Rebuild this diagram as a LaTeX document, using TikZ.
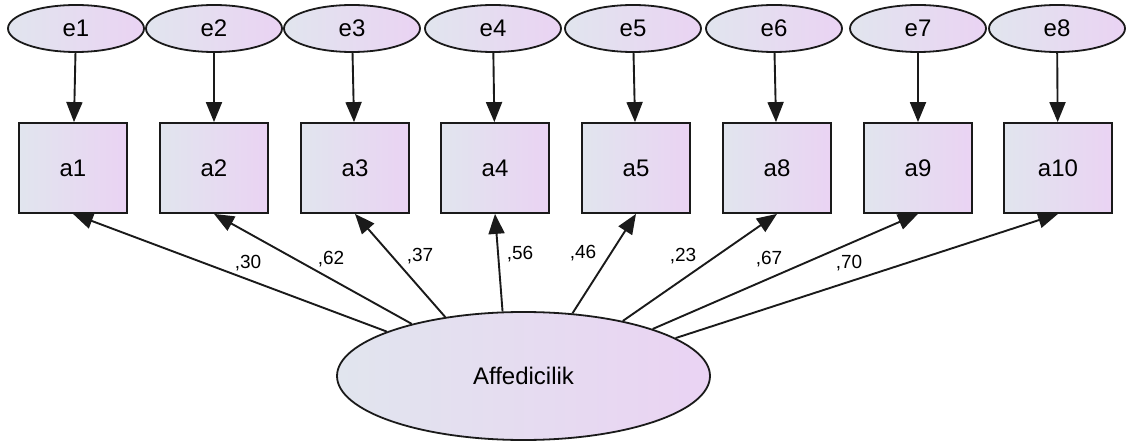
\documentclass[tikz,border=0pt]{standalone}
\usepackage{fontspec}
\setmainfont{Liberation Sans}
\usepackage{tikz}
\usetikzlibrary{positioning,arrows.meta,shapes.geometric}
\usepackage{xcolor}
\definecolor{SemBlue}{HTML}{E1E5EE}
\definecolor{SemLilac}{HTML}{EAD3F3}
\definecolor{SemInk}{HTML}{1A1A1A}

\begin{document}
\begin{tikzpicture}[x=1pt, y=-1pt,
        err/.style={ellipse, draw=SemInk, line width=1.8pt, left color=SemBlue, right color=SemLilac,
          minimum width=136pt, minimum height=47pt, inner sep=0pt, font=\fontsize{24}{28}\selectfont},
        item/.style={rectangle, draw=SemInk, line width=1.8pt, left color=SemBlue, right color=SemLilac,
          minimum width=108pt, minimum height=90pt, inner sep=0pt, font=\fontsize{24}{28}\selectfont},
        latent/.style={ellipse, draw=SemInk, line width=1.8pt, left color=SemBlue, right color=SemLilac,
          minimum width=373pt, minimum height=128pt, inner sep=0pt, font=\fontsize{24}{28}\selectfont},
        path/.style={draw=SemInk, line width=1.9pt, -{Triangle[length=20pt,width=16pt]}},
        lab/.style={font=\fontsize{19}{22}\selectfont, inner sep=0pt},
      ]
      \useasboundingbox (0,0) rectangle (1131,443);
      % observed items
      \node[item] (a1) at (73,168) {a1};
      \node[item] (a2) at (214,168) {a2};
      \node[item] (a3) at (355,168) {a3};
      \node[item] (a4) at (495,168) {a4};
      \node[item] (a5) at (636,168) {a5};
      \node[item] (a8) at (777,168) {a8};
      \node[item] (a9) at (918,168) {a9};
      \node[item] (a10) at (1058,168) {a10};
      % error terms
      \node[err] (e1) at (76,28.5) {e1};
      \node[err] (e2) at (214,28.5) {e2};
      \node[err] (e3) at (352,28.5) {e3};
      \node[err] (e4) at (493,28.5) {e4};
      \node[err] (e5) at (633,28.5) {e5};
      \node[err] (e6) at (774,28.5) {e6};
      \node[err] (e7) at (918,28.5) {e7};
      \node[err] (e8) at (1057,28.5) {e8};
      % latent factor
      \node[latent] (lat) at (523.5,376) {Affedicilik};
      \draw[path] (e1) -- (a1);
      \draw[path] (e2) -- (a2);
      \draw[path] (e3) -- (a3);
      \draw[path] (e4) -- (a4);
      \draw[path] (e5) -- (a5);
      \draw[path] (e6) -- (a8);
      \draw[path] (e7) -- (a9);
      \draw[path] (e8) -- (a10);
      \draw[path] (lat.162.5) -- (a1.south);
      \draw[path] (lat.155.8) -- (a2.south);
      \draw[path] (lat.143.1) -- (a3.south);
      \draw[path] (lat.108.6) -- (a4.south);
      \draw[path] (lat.52.8) -- (a5.south);
      \draw[path] (lat.29.4) -- (a8.south);
      \draw[path] (lat.20.1) -- (a9.south);
      \draw[path] (lat.14.9) -- (a10.south);
      \node[lab] (w1) at (248,263) {,30};
      \node[lab] (w2) at (331,259) {,62};
      \node[lab] (w3) at (420,256) {,37};
      \node[lab] (w4) at (520,254) {,56};
      \node[lab] (w5) at (583,253) {,46};
      \node[lab] (w6) at (683,256) {,23};
      \node[lab] (w7) at (769,259) {,67};
      \node[lab] (w8) at (849,263) {,70};
    \end{tikzpicture}
\end{document}
